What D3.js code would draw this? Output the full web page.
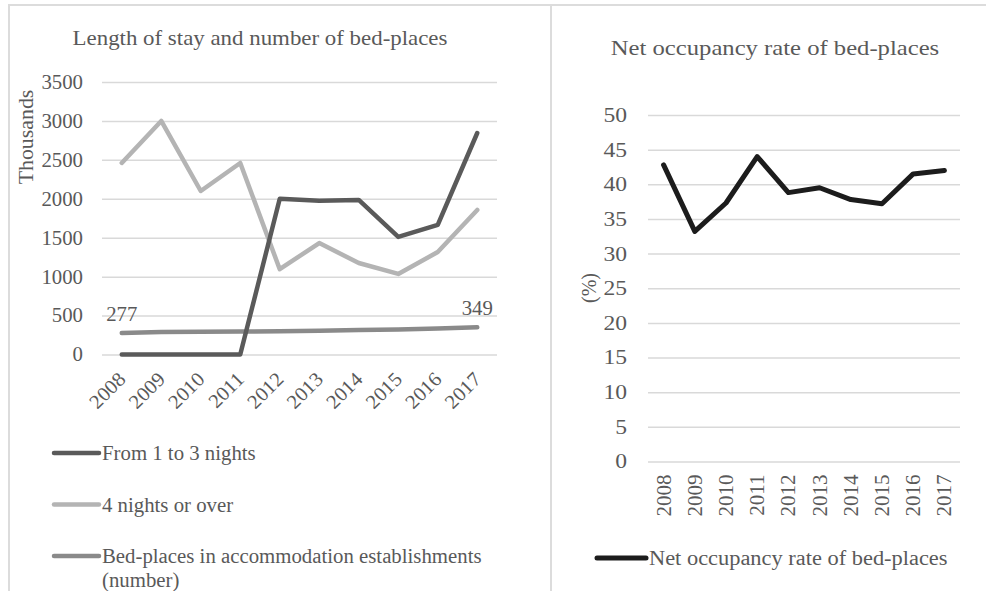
<!DOCTYPE html>
<html>
<head>
<meta charset="utf-8">
<script src="https://cdn.jsdelivr.net/npm/d3@7"></script>
<style>
  html, body { margin: 0; padding: 0; background: #fff; }
  svg text { font-family: "Liberation Serif", "Times New Roman", serif; fill: #595959; }
</style>
</head>
<body>
<svg id="chart" width="986" height="591"></svg>
<script>
// Years shared by both panels
const years = ["2008", "2009", "2010", "2011", "2012", "2013", "2014", "2015", "2016", "2017"];

// Left panel: thousands of nights and bed-places
const shortStay = [0, 0, 0, 0, 2000, 1975, 1985, 1510, 1665, 2845];
const longStay = [2460, 3000, 2100, 2460, 1095, 1432, 1175, 1035, 1316, 1856];
const bedPlaces = [277, 288, 293, 295, 300, 305, 316, 322, 335, 349];
const leftTicks = [0, 500, 1000, 1500, 2000, 2500, 3000, 3500];

// Right panel: net occupancy rate (%)
const occupancy = [42.8, 33.2, 37.3, 44.0, 38.8, 39.5, 37.8, 37.2, 41.5, 42.0];
const rightTicks = [0, 5, 10, 15, 20, 25, 30, 35, 40, 45, 50];

const svg = d3.select("#chart");
const gridColor = "#d9d9d9";
const textColor = "#595959";

// Widen glyphs along the text direction (the serif face runs narrow)
function stretch(sel, k) {
  sel.each(function () {
    const w = this.getComputedTextLength();
    d3.select(this).attr("textLength", w * k).attr("lengthAdjust", "spacingAndGlyphs");
  });
  return sel;
}

// Panel frames
const frame = svg.append("g").attr("stroke", "#dcdcdc").attr("stroke-width", 2).attr("fill", "none");
frame.append("line").attr("x1", 8).attr("x2", 986).attr("y1", 5).attr("y2", 5);
frame.append("line").attr("x1", 9).attr("x2", 9).attr("y1", 5).attr("y2", 591);
frame.append("line").attr("x1", 551).attr("x2", 551).attr("y1", 5).attr("y2", 591);

// ---------- Left panel ----------
const L = { left: 102, right: 497, top: 82, bottom: 354.5 };
const kL = 1.04;
const xL = d3.scaleBand().domain(years).range([L.left, L.right]);
const yL = d3.scaleLinear().domain([0, 3500]).range([L.bottom, L.top]);

stretch(svg.append("text").attr("x", 260).attr("y", 45).attr("text-anchor", "middle")
  .style("font-size", "22px").text("Length of stay and number of bed-places"), kL);

const gyL = svg.append("g").attr("transform", `translate(${L.left},0)`)
  .call(d3.axisLeft(yL).tickValues(leftTicks).tickFormat(d3.format("d"))
    .tickSize(-(L.right - L.left)).tickPadding(19));
gyL.select(".domain").remove();
gyL.selectAll(".tick line").attr("stroke", gridColor).attr("stroke-width", 1.5);
stretch(gyL.selectAll(".tick text").style("font-size", "20px").attr("fill", textColor)
  .style("font-family", "Liberation Serif, serif"), kL);

stretch(svg.append("text").attr("transform", "translate(33,137) rotate(-90)").attr("text-anchor", "middle")
  .style("font-size", "21px").text("Thousands"), kL);

const gxL = svg.append("g").attr("transform", `translate(0,${L.bottom})`)
  .call(d3.axisBottom(xL).tickSize(0).tickPadding(0));
gxL.select(".domain").remove();
stretch(gxL.selectAll(".tick text")
  .attr("text-anchor", "end").attr("dy", null).attr("y", 0)
  .attr("transform", "translate(5,26) rotate(-45)")
  .style("font-size", "20px").attr("fill", textColor)
  .style("font-family", "Liberation Serif, serif"), kL);

const cxL = d => xL(d) + xL.bandwidth() / 2;
const lineL = d3.line().x((d, i) => cxL(years[i])).y(d => yL(d));

const leftSeries = [
  { name: "Bed-places in accommodation establishments", name2: "(number)", values: bedPlaces, color: "#8a8a8a" },
  { name: "4 nights or over", values: longStay, color: "#b4b4b4" },
  { name: "From 1 to 3 nights", values: shortStay, color: "#5a5a5a" }
];
leftSeries.forEach(s => {
  svg.append("path").datum(s.values).attr("d", lineL)
    .attr("fill", "none").attr("stroke", s.color).attr("stroke-width", 4.5)
    .attr("stroke-linejoin", "round").attr("stroke-linecap", "round");
});

// End-point labels for the bed-places series
[0, years.length - 1].forEach(i => {
  stretch(svg.append("text").attr("x", cxL(years[i])).attr("y", yL(bedPlaces[i]) - 12)
    .attr("text-anchor", "middle").style("font-size", "20px").text(bedPlaces[i]), kL);
});

// Left legend
const legendL = [leftSeries[2], leftSeries[1], leftSeries[0]];
legendL.forEach((s, i) => {
  const y = 453 + i * 51.5;
  svg.append("line").attr("x1", 54).attr("x2", 99).attr("y1", y).attr("y2", y)
    .attr("stroke", s.color).attr("stroke-width", 4.5).attr("stroke-linecap", "round");
  stretch(svg.append("text").attr("x", 102).attr("y", y + 7).style("font-size", "20px").text(s.name), kL);
  if (s.name2) stretch(svg.append("text").attr("x", 102).attr("y", y + 31).style("font-size", "20px").text(s.name2), kL);
});

// ---------- Right panel ----------
const R = { left: 648, right: 960, top: 115, bottom: 461.5 };
const kR = 1.12;
const xR = d3.scaleBand().domain(years).range([R.left, R.right]);
const yR = d3.scaleLinear().domain([0, 50]).range([R.bottom, R.top]);

stretch(svg.append("text").attr("x", 775).attr("y", 55).attr("text-anchor", "middle")
  .style("font-size", "22px").text("Net occupancy rate of bed-places"), kR);

const gyR = svg.append("g").attr("transform", `translate(${R.left},0)`)
  .call(d3.axisLeft(yR).tickValues(rightTicks).tickSize(-(R.right - R.left)).tickPadding(21));
gyR.select(".domain").remove();
gyR.selectAll(".tick line").attr("stroke", gridColor).attr("stroke-width", 1.5);
stretch(gyR.selectAll(".tick text").style("font-size", "20px").attr("fill", textColor)
  .style("font-family", "Liberation Serif, serif"), 1.18);

svg.append("text").attr("transform", "translate(596,288) rotate(-90)").attr("text-anchor", "middle")
  .style("font-size", "20px").text("(%)");

const gxR = svg.append("g").attr("transform", `translate(0,${R.bottom})`)
  .call(d3.axisBottom(xR).tickSize(0).tickPadding(0));
gxR.select(".domain").remove();
stretch(gxR.selectAll(".tick text")
  .attr("text-anchor", "end").attr("dy", "0.35em").attr("y", 0)
  .attr("transform", "translate(0,13) rotate(-90)")
  .style("font-size", "20px").attr("fill", textColor)
  .style("font-family", "Liberation Serif, serif"), 1.05);

const cxR = d => xR(d) + xR.bandwidth() / 2;
svg.append("path").datum(occupancy)
  .attr("d", d3.line().x((d, i) => cxR(years[i])).y(d => yR(d)))
  .attr("fill", "none").attr("stroke", "#1c1c1c").attr("stroke-width", 5)
  .attr("stroke-linejoin", "round").attr("stroke-linecap", "round");

// Right legend
svg.append("line").attr("x1", 597).attr("x2", 646).attr("y1", 558).attr("y2", 558)
  .attr("stroke", "#1c1c1c").attr("stroke-width", 5).attr("stroke-linecap", "round");
stretch(svg.append("text").attr("x", 649).attr("y", 565).style("font-size", "20px")
  .text("Net occupancy rate of bed-places"), kR);
</script>
</body>
</html>
